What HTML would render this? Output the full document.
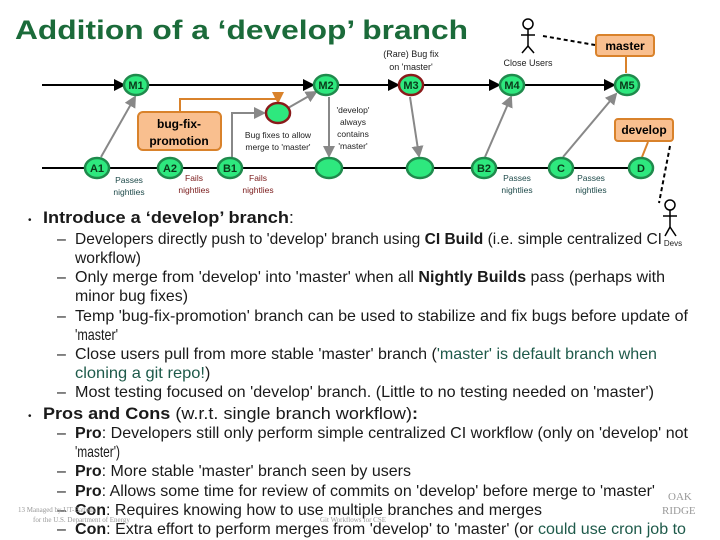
<!DOCTYPE html>
<html><head><meta charset="utf-8"><style>
html,body{margin:0;padding:0;background:#fff;}
svg{display:block;font-family:"Liberation Sans",Arial,sans-serif;}
</style></head><body>
<svg width="720" height="540" viewBox="0 0 720 540" xmlns="http://www.w3.org/2000/svg">
<defs>
<marker id="ab" markerWidth="6" markerHeight="6" refX="5" refY="3" orient="auto"><path d="M0,0 L6,3 L0,6z" fill="#000"/></marker>
<marker id="ag" markerWidth="6" markerHeight="6" refX="5" refY="3" orient="auto"><path d="M0,0 L6,3 L0,6z" fill="#888"/></marker>
<marker id="ao" markerWidth="6" markerHeight="6" refX="5" refY="3" orient="auto"><path d="M0,0 L6,3 L0,6z" fill="#d9822b"/></marker>
</defs>
<text x="15" y="39" font-size="27" font-weight="bold" fill="#1b6b3a" textLength="453" lengthAdjust="spacingAndGlyphs">Addition of a ‘develop’ branch</text>
<!-- main lines -->
<line x1="42" y1="85" x2="124" y2="85" stroke="#000" stroke-width="2" marker-end="url(#ab)"/>
<line x1="149" y1="85" x2="313" y2="85" stroke="#000" stroke-width="2" marker-end="url(#ab)"/>
<line x1="339" y1="85" x2="398" y2="85" stroke="#000" stroke-width="2" marker-end="url(#ab)"/>
<line x1="424" y1="85" x2="499" y2="85" stroke="#000" stroke-width="2" marker-end="url(#ab)"/>
<line x1="525" y1="85" x2="614" y2="85" stroke="#000" stroke-width="2" marker-end="url(#ab)"/>
<line x1="42" y1="168" x2="628" y2="168" stroke="#000" stroke-width="2"/>
<!-- gray links -->
<g stroke="#888" stroke-width="2" fill="none">
<line x1="101" y1="157" x2="135" y2="97" marker-end="url(#ag)"/>
<polyline points="232,157 232,113 264,113" marker-end="url(#ag)"/>
<line x1="288" y1="108" x2="316" y2="92" marker-end="url(#ag)"/>
<line x1="329" y1="97" x2="329" y2="156" marker-end="url(#ag)"/>
<line x1="410" y1="97" x2="419" y2="156" marker-end="url(#ag)"/>
<line x1="485" y1="157" x2="511" y2="97" marker-end="url(#ag)"/>
<line x1="563" y1="157" x2="616" y2="94" marker-end="url(#ag)"/>
</g>
<!-- orange -->
<polyline points="180,145 180,99 278,99 278,102" stroke="#d9822b" stroke-width="2" fill="none" marker-end="url(#ao)"/>
<rect x="138" y="112" width="83" height="38" rx="5" fill="#f9bf8f" stroke="#d9822b" stroke-width="2"/>
<text x="179" y="128" font-size="12" font-weight="bold" text-anchor="middle">bug-fix-</text>
<text x="179" y="145" font-size="12" font-weight="bold" text-anchor="middle">promotion</text>
<rect x="596" y="35" width="58" height="21" rx="3" fill="#f9bf8f" stroke="#d9822b" stroke-width="2"/>
<text x="625" y="50" font-size="12" font-weight="bold" text-anchor="middle">master</text>
<line x1="626" y1="57" x2="626" y2="73" stroke="#d9822b" stroke-width="2"/>
<rect x="615" y="119" width="58" height="22" rx="3" fill="#f9bf8f" stroke="#d9822b" stroke-width="2"/>
<text x="644" y="134" font-size="12" font-weight="bold" text-anchor="middle">develop</text>
<line x1="648" y1="142" x2="642" y2="157" stroke="#d9822b" stroke-width="2"/>
<!-- dashed -->
<line x1="543" y1="36" x2="595" y2="45" stroke="#000" stroke-width="2" stroke-dasharray="4,3"/>
<line x1="670" y1="146" x2="659" y2="203" stroke="#000" stroke-width="2" stroke-dasharray="4,3"/>
<!-- stick figures -->
<g stroke="#000" stroke-width="1.5" fill="#fff">
<circle cx="528" cy="24" r="5"/><line x1="528" y1="29" x2="528" y2="46"/><line x1="521" y1="35" x2="535" y2="35"/><line x1="528" y1="46" x2="522" y2="53"/><line x1="528" y1="46" x2="534" y2="53"/>
<circle cx="670" cy="205" r="5"/><line x1="670" y1="210" x2="670" y2="227"/><line x1="663" y1="216" x2="677" y2="216"/><line x1="670" y1="227" x2="665" y2="236"/><line x1="670" y1="227" x2="676" y2="236"/>
</g>
<text x="528" y="66" font-size="9" text-anchor="middle" fill="#222">Close Users</text>
<text x="673" y="246" font-size="8" text-anchor="middle" fill="#222">Devs</text>
<text x="411" y="57" font-size="9" text-anchor="middle" fill="#222">(Rare) Bug fix</text>
<text x="411" y="70" font-size="9" text-anchor="middle" fill="#222">on 'master'</text>
<!-- nodes -->
<g stroke="#1f8a4c" stroke-width="2.5" fill="#2ee87e">
<ellipse cx="136" cy="85" rx="12" ry="10"/>
<ellipse cx="326" cy="85" rx="12" ry="10"/>
<ellipse cx="512" cy="85" rx="12" ry="10"/>
<ellipse cx="627" cy="85" rx="12" ry="10"/>
<ellipse cx="97" cy="168" rx="12" ry="10"/>
<ellipse cx="170" cy="168" rx="12" ry="10"/>
<ellipse cx="230" cy="168" rx="12" ry="10"/>
<ellipse cx="329" cy="168" rx="13" ry="10"/>
<ellipse cx="420" cy="168" rx="13" ry="10"/>
<ellipse cx="484" cy="168" rx="12" ry="10"/>
<ellipse cx="561" cy="168" rx="12" ry="10"/>
<ellipse cx="641" cy="168" rx="12" ry="10"/>
</g>
<ellipse cx="411" cy="85" rx="12" ry="10" fill="#2ee87e" stroke="#8a1a1a" stroke-width="2.5"/>
<ellipse cx="278" cy="113" rx="12" ry="10" fill="#2ee87e" stroke="#8a1a1a" stroke-width="2.5"/>
<g font-size="11" font-weight="bold" text-anchor="middle" fill="#0a3a1a">
<text x="136" y="89">M1</text><text x="326" y="89">M2</text><text x="411" y="89">M3</text><text x="512" y="89">M4</text><text x="627" y="89">M5</text>
<text x="97" y="172">A1</text><text x="170" y="172">A2</text><text x="230" y="172">B1</text><text x="484" y="172">B2</text><text x="561" y="172">C</text><text x="641" y="172">D</text>
</g>
<g font-size="8.5" fill="#222" text-anchor="middle">
<text x="129" y="183" fill="#1e4a4a">Passes</text><text x="129" y="195" fill="#1e4a4a">nightlies</text>
<text x="194" y="181" fill="#7a1a1a">Fails</text><text x="194" y="193" fill="#7a1a1a">nightlies</text>
<text x="258" y="181" fill="#7a1a1a">Fails</text><text x="258" y="193" fill="#7a1a1a">nightlies</text>
<text x="278" y="138">Bug fixes to allow</text><text x="278" y="150">merge to 'master'</text>
<text x="353" y="113">'develop'</text><text x="353" y="125">always</text><text x="353" y="137">contains</text><text x="353" y="149">'master'</text>
<text x="517" y="181" fill="#1e4a4a">Passes</text><text x="517" y="193" fill="#1e4a4a">nightlies</text>
<text x="591" y="181" fill="#1e4a4a">Passes</text><text x="591" y="193" fill="#1e4a4a">nightlies</text>
</g>
<!-- body text -->
<g font-size="16" fill="#1a1a1a">
<text x="28" y="223" font-size="10">•</text>
<text x="43" y="223" font-size="17" font-weight="bold" textLength="251" lengthAdjust="spacingAndGlyphs">Introduce a ‘develop’ branch<tspan font-weight="normal">:</tspan></text>
<text x="57" y="244">–</text><text x="75" y="244" textLength="587" lengthAdjust="spacingAndGlyphs">Developers directly push to 'develop' branch using <tspan font-weight="bold">CI Build</tspan> (i.e. simple centralized CI</text>
<text x="75" y="263" textLength="66" lengthAdjust="spacingAndGlyphs">workflow)</text>
<text x="57" y="282">–</text><text x="75" y="282" textLength="590" lengthAdjust="spacingAndGlyphs">Only merge from 'develop' into 'master' when all <tspan font-weight="bold">Nightly Builds</tspan> pass (perhaps with</text>
<text x="75" y="301" textLength="113" lengthAdjust="spacingAndGlyphs">minor bug fixes)</text>
<text x="57" y="321">–</text><text x="75" y="321" textLength="613" lengthAdjust="spacingAndGlyphs">Temp 'bug-fix-promotion' branch can be used to stabilize and fix bugs before update of</text>
<text x="75" y="340" textLength="43" lengthAdjust="spacingAndGlyphs">'master'</text>
<text x="57" y="359">–</text><text x="75" y="359" textLength="582" lengthAdjust="spacingAndGlyphs">Close users pull from more stable 'master' branch (<tspan fill="#1e5a4a">'master' is default branch when</tspan></text>
<text x="75" y="378" fill="#1e5a4a" textLength="130" lengthAdjust="spacingAndGlyphs">cloning a git repo!</text><text x="205" y="378">)</text>
<text x="57" y="397">–</text><text x="75" y="397" textLength="579" lengthAdjust="spacingAndGlyphs">Most testing focused on 'develop' branch.  (Little to no testing needed on 'master')</text>
<text x="28" y="419" font-size="10">•</text>
<text x="43" y="419" font-size="17" font-weight="bold" textLength="375" lengthAdjust="spacingAndGlyphs">Pros and Cons <tspan font-weight="normal">(w.r.t. single branch workflow)</tspan>:</text>
<text x="57" y="438">–</text><text x="75" y="438" textLength="613" lengthAdjust="spacingAndGlyphs"><tspan font-weight="bold">Pro</tspan>: Developers still only perform simple centralized CI workflow (only on 'develop' not</text>
<text x="75" y="457" textLength="45" lengthAdjust="spacingAndGlyphs">'master')</text>
<text x="57" y="476">–</text><text x="75" y="476" textLength="336" lengthAdjust="spacingAndGlyphs"><tspan font-weight="bold">Pro</tspan>: More stable 'master' branch seen by users</text>
<text x="57" y="496">–</text><text x="75" y="496" textLength="580" lengthAdjust="spacingAndGlyphs"><tspan font-weight="bold">Pro</tspan>: Allows some time for review of commits on 'develop' before merge to 'master'</text>
<text x="57" y="515">–</text><text x="75" y="515" textLength="467" lengthAdjust="spacingAndGlyphs"><tspan font-weight="bold">Con</tspan>: Requires knowing how to use multiple branches and merges</text>
<text x="57" y="534">–</text><text x="75" y="534" textLength="611" lengthAdjust="spacingAndGlyphs"><tspan font-weight="bold">Con</tspan>: Extra effort to perform merges from 'develop' to 'master' (or <tspan fill="#1e5a4a">could use cron job to</tspan></text>
</g>
<g font-size="7" fill="#999" font-family="Liberation Serif,serif">
<text x="18" y="512">13  Managed by UT-Battelle</text>
<text x="33" y="522">for the U.S. Department of Energy</text>
<text x="320" y="522">Git Workflows for CSE</text>
<text x="668" y="500" font-size="11">OAK</text>
<text x="662" y="514" font-size="11">RIDGE</text>
</g>
</svg>
</body></html>
